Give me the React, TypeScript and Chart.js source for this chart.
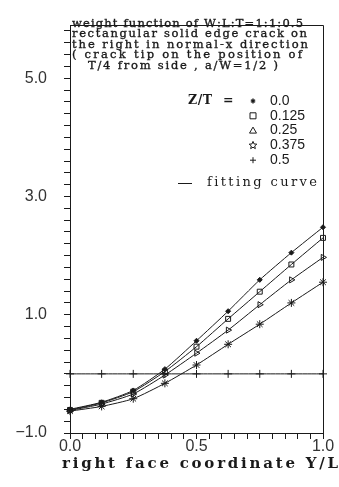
import React, { useEffect, useRef } from 'react';
import { Chart, registerables } from 'chart.js';

Chart.register(...registerables);

// ---- data ----
const X_POS = [0, 0.125, 0.25, 0.375, 0.5, 0.625, 0.75, 0.875, 1.0];
const ZT_LABELS = ['0.0', '0.125', '0.25', '0.375', '0.5'];
const SERIES_ZT_0 = [-0.60, -0.48, -0.28, 0.08, 0.56, 1.06, 1.59, 2.05, 2.48];
const SERIES_ZT_0125 = [-0.61, -0.49, -0.30, 0.04, 0.46, 0.93, 1.39, 1.85, 2.30];
const SERIES_ZT_025 = [-0.62, -0.51, -0.34, -0.02, 0.35, 0.74, 1.17, 1.59, 1.97];
const SERIES_ZT_0375 = [-0.63, -0.55, -0.42, -0.16, 0.15, 0.50, 0.84, 1.20, 1.55];
const SERIES_ZT_05 = [0, 0, 0, 0, 0, 0, 0, 0, 0];
const Y_TICK_LABELS = [-1, 1, 3, 5];
const X_TICK_LABELS = [0, 0.5, 1];
const NOTE_LINES = [
  'weight function of W:L:T=1:1:0.5',
  'rectangular solid edge crack on',
  'the right in normal-x direction',
  '( crack tip on the position of',
  'T/4 from side , a/W=1/2 )',
];
const LEGEND_HEAD = 'Z/T';
const LEGEND_EQ = '=';
const FIT_LABEL = 'fitting curve';
const X_TITLE = 'right face coordinate Y/L';

const INK = '#1a1a1a';
const SERIF = "'DejaVu Serif', 'Liberation Serif', serif";
const SANS = "'Liberation Sans', 'DejaVu Sans', sans-serif";

function spaced(ctx: CanvasRenderingContext2D, text: string, x: number, y: number, width: number, font: string, weight = 0) {
  ctx.save();
  ctx.font = font;
  const chars = Array.from(text);
  const widths = chars.map((c) => ctx.measureText(c).width);
  const total = widths.reduce((a, b) => a + b, 0);
  const sp = chars.length > 1 ? (width - total) / (chars.length - 1) : 0;
  let cx = x;
  ctx.lineWidth = weight;
  ctx.strokeStyle = ctx.fillStyle as string;
  chars.forEach((c, i) => {
    ctx.fillText(c, cx, y);
    if (weight > 0) ctx.strokeText(c, cx, y);
    cx += widths[i] + sp;
  });
  ctx.restore();
}

function drawMarker(ctx: CanvasRenderingContext2D, kind: number, x: number, y: number) {
  ctx.save();
  ctx.strokeStyle = INK;
  ctx.fillStyle = INK;
  ctx.lineWidth = 1;
  ctx.beginPath();
  if (kind === 0) {
    for (let k = 0; k < 3; k++) {
      const a = (Math.PI / 3) * k + Math.PI / 2;
      ctx.moveTo(x + 2.5 * Math.cos(a), y + 2.5 * Math.sin(a));
      ctx.lineTo(x - 2.5 * Math.cos(a), y - 2.5 * Math.sin(a));
    }
    ctx.lineWidth = 1.4;
    ctx.stroke();
  } else if (kind === 1) {
    ctx.rect(x - 3, y - 3, 6, 6);
    ctx.stroke();
  } else if (kind === 2) {
    ctx.moveTo(x, y - 3.5);
    ctx.lineTo(x + 3.5, y + 2.5);
    ctx.lineTo(x - 3.5, y + 2.5);
    ctx.closePath();
    ctx.stroke();
  } else if (kind === 3) {
    for (let k = 0; k < 10; k++) {
      const r = k % 2 === 0 ? 4 : 1.8;
      const a = -Math.PI / 2 + (Math.PI / 5) * k;
      const px = x + r * Math.cos(a);
      const py = y + r * Math.sin(a);
      if (k === 0) ctx.moveTo(px, py);
      else ctx.lineTo(px, py);
    }
    ctx.closePath();
    ctx.stroke();
  } else {
    ctx.moveTo(x - 3, y);
    ctx.lineTo(x + 3, y);
    ctx.moveTo(x, y - 3);
    ctx.lineTo(x, y + 3);
    ctx.stroke();
  }
  ctx.restore();
}

const decorPlugin = {
  id: 'decor',
  afterDraw(chart: any) {
    const ctx: CanvasRenderingContext2D = chart.ctx;
    const { left, right, top } = chart.chartArea;
    ctx.save();
    // frame top and right
    ctx.strokeStyle = INK;
    ctx.lineWidth = 1;
    ctx.beginPath();
    ctx.moveTo(left, top + 0.5);
    ctx.lineTo(right + 0.5, top + 0.5);
    ctx.lineTo(right + 0.5, chart.chartArea.bottom);
    ctx.stroke();

    ctx.fillStyle = INK;
    ctx.textBaseline = 'middle';
    ctx.textAlign = 'left';
    // note lines
    const noteFont = `11.5px ${SERIF}`;
    const noteX = [72, 72, 72, 72, 88];
    const noteW = [231, 235, 236, 230, 190];
    NOTE_LINES.forEach((t, i) => {
      spaced(ctx, t, noteX[i], 24 + i * 10.4, noteW[i], noteFont, 0.35);
    });
    // legend head
    spaced(ctx, LEGEND_HEAD, 188, 101, 24, `bold 12.5px ${SERIF}`);
    spaced(ctx, LEGEND_EQ, 223, 101, 8, `bold 12.5px ${SERIF}`);
    ZT_LABELS.forEach((lab, i) => {
      const y = 101 + i * 14.8;
      drawMarker(ctx, i, 253, y);
      ctx.font = `14px ${SANS}`;
      ctx.fillText(lab, 270, y);
    });
    // fitting curve
    ctx.beginPath();
    ctx.moveTo(178, 183.5);
    ctx.lineTo(192, 183.5);
    ctx.stroke();
    spaced(ctx, FIT_LABEL, 207, 183, 110, `13px ${SERIF}`);
    // x axis title
    ctx.textBaseline = 'alphabetic';
    spaced(ctx, X_TITLE, 62, 468, 276, `bold 15px ${SERIF}`);
    ctx.restore();
  },
};

export default function App() {
  const ref = useRef<HTMLCanvasElement | null>(null);
  useEffect(() => {
    if (!ref.current) return;
    const mk = (data: number[], style: any, extra: any = {}) => ({
      data: X_POS.map((x, i) => ({ x, y: data[i] })),
      borderColor: INK,
      backgroundColor: 'rgba(0,0,0,0)',
      borderWidth: 1,
      pointBorderColor: INK,
      pointBorderWidth: 1,
      pointStyle: style,
      tension: 0.2,
      clip: false,
      ...extra,
    });
    const chart = new Chart(ref.current, {
      type: 'line',
      data: {
        datasets: [
          mk(SERIES_ZT_0, 'rectRot', { pointRadius: 2.5, pointBackgroundColor: INK, label: ZT_LABELS[0] }),
          mk(SERIES_ZT_0125, 'rect', { pointRadius: 3.5, label: ZT_LABELS[1] }),
          mk(SERIES_ZT_025, 'triangle', { pointRadius: 3.5, pointRotation: 90, label: ZT_LABELS[2] }),
          mk(SERIES_ZT_0375, 'star', { pointRadius: 4, label: ZT_LABELS[3] }),
          mk(SERIES_ZT_05, 'cross', { pointRadius: 4, label: ZT_LABELS[4] }),
        ],
      },
      options: {
        animation: false,
        responsive: false,
        devicePixelRatio: 1,
        layout: { padding: { left: 0, right: 16, top: 12, bottom: 0 } },
        plugins: { legend: { display: false }, tooltip: { enabled: false }, title: { display: false } },
        scales: {
          x: {
            type: 'linear',
            min: 0,
            max: 1,
            afterFit: (s: any) => { s.height = 54; },
            ticks: {
              stepSize: 0.05,
              autoSkip: false,
              maxRotation: 0,
              padding: 0,
              color: '#333',
              font: { family: SANS, size: 16, lineHeight: 1 },
              callback: (v: any) => {
                const n = Number(v);
                return X_TICK_LABELS.some((t) => Math.abs(t - n) < 1e-6) ? n.toFixed(1) : '';
              },
            },
            grid: { drawOnChartArea: false, tickLength: 6, color: INK },
            border: { color: INK, width: 1 },
          },
          y: {
            type: 'linear',
            min: -1,
            max: 5.9,
            afterFit: (s: any) => { s.width = 70; },
            ticks: {
              stepSize: 0.2,
              includeBounds: false,
              autoSkip: false,
              padding: 17,
              color: '#333',
              font: { family: SANS, size: 16, lineHeight: 1 },
              callback: (v: any) => {
                const n = Number(v);
                if (!Y_TICK_LABELS.some((t) => Math.abs(t - n) < 1e-6)) return '';
                const s = Math.abs(n).toFixed(1);
                return n < 0 ? '\u2212' + s : s;
              },
            },
            grid: { drawOnChartArea: false, tickLength: 6, color: INK },
            border: { color: INK, width: 1 },
          },
        },
      },
      plugins: [decorPlugin],
    } as any);
    return () => chart.destroy();
  }, []);
  return (
    <div style={{ position: 'fixed', left: 0, top: 0, width: 339, height: 487, background: '#fff' }}>
      <canvas ref={ref} width={339} height={487} style={{ width: 339, height: 487, display: 'block' }} />
    </div>
  );
}
